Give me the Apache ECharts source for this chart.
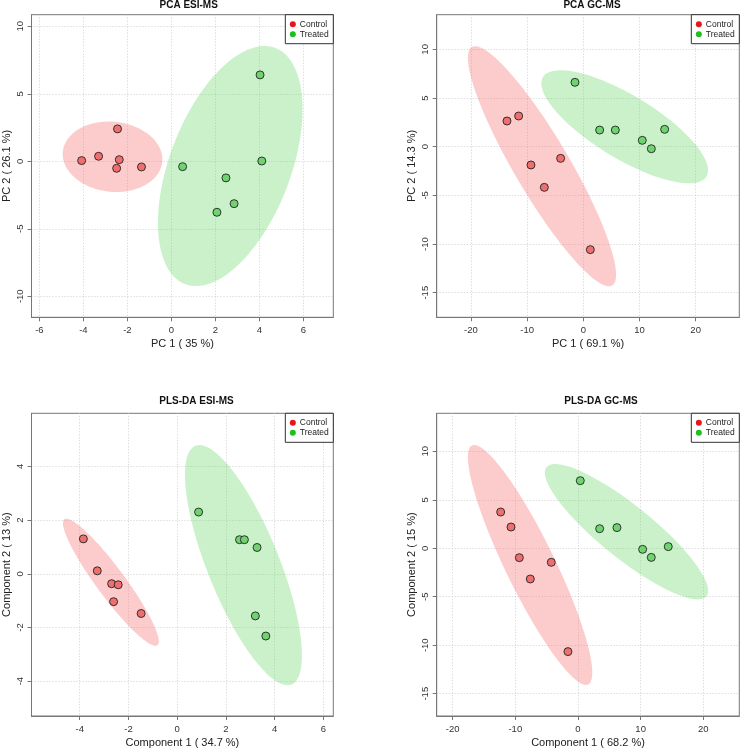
<!DOCTYPE html>
<html><head><meta charset="utf-8">
<script src="https://cdn.jsdelivr.net/npm/echarts@6/dist/echarts.min.js"></script>
<style>html,body{margin:0;padding:0;background:#fff}#c{width:740px;height:750px}</style>
</head><body><div id="c"></div>
<script>
// ---------- data ----------
const groups = ['Control', 'Treated'];
const titles = ['PCA ESI-MS', 'PCA GC-MS', 'PLS-DA ESI-MS', 'PLS-DA GC-MS'];
const xNames = ['PC 1 ( 35 %)', 'PC 1 ( 69.1 %)', 'Component 1 ( 34.7 %)', 'Component 1 ( 68.2 %)'];
const yNames = ['PC 2 ( 26.1 %)', 'PC 2 ( 14.3 %)', 'Component 2 ( 13 %)', 'Component 2 ( 15 %)'];

const pcaEsiControl = [[-4.08, 0.05], [-3.31, 0.37], [-2.45, 2.40], [-2.37, 0.12], [-2.49, -0.52], [-1.36, -0.42]];
const pcaEsiTreated = [[0.51, -0.40], [4.03, 6.40], [4.11, 0.02], [2.48, -1.23], [2.85, -3.14], [2.07, -3.78]];

const pcaGcControl = [[-13.59, 2.64], [-11.51, 3.15], [-9.32, -1.88], [-6.94, -4.18], [-4.04, -1.20], [1.25, -10.58]];
const pcaGcTreated = [[-1.48, 6.61], [2.91, 1.71], [5.70, 1.71], [10.50, 0.65], [12.11, -0.21], [14.48, 1.78]];

const plsEsiControl = [[-3.85, 1.30], [-3.28, 0.11], [-2.69, -0.37], [-2.42, -0.41], [-2.61, -1.04], [-1.48, -1.48]];
const plsEsiTreated = [[0.88, 2.30], [2.56, 1.27], [2.76, 1.27], [3.28, 0.98], [3.21, -1.57], [3.64, -2.32]];

const plsGcControl = [[-12.34, 3.74], [-10.69, 2.19], [-9.36, -0.97], [-7.61, -3.17], [-4.26, -1.45], [-1.60, -10.66]];
const plsGcTreated = [[0.37, 6.97], [3.46, 2.02], [6.22, 2.13], [10.32, -0.11], [11.70, -0.94], [14.41, 0.17]];

const xTicks = [[-6, -4, -2, 0, 2, 4, 6], [-20, -10, 0, 10, 20], [-4, -2, 0, 2, 4, 6], [-20, -10, 0, 10, 20]];
const yTicks = [[-10, -5, 0, 5, 10], [-15, -10, -5, 0, 5, 10], [-4, -2, 0, 2, 4], [-15, -10, -5, 0, 5, 10]];
const xLimits = [[-6.36, 7.36], [-26.1, 27.77], [-5.98, 6.41], [-22.55, 25.75]];
const yLimits = [[-11.56, 10.86], [-17.53, 13.56], [-5.30, 5.98], [-17.30, 13.92]];

const panelData = [
  [pcaEsiControl, pcaEsiTreated],
  [pcaGcControl, pcaGcTreated],
  [plsEsiControl, plsEsiTreated],
  [plsGcControl, plsGcTreated]
];

// ---------- styling / layout ----------
const FONT = 'Liberation Sans, Arial, Helvetica, sans-serif';
const grids = [
  { left: 30.3, top: 14.7, width: 303, height: 302.6 },
  { left: 436.7, top: 14.7, width: 302.6, height: 302.6 },
  { left: 30.3, top: 413.3, width: 303, height: 302.7 },
  { left: 436.7, top: 413.3, width: 302.6, height: 302.7 }
];
const titlePos = [[188.7, 0], [592, 0], [196.5, 396], [601, 396]];
const legendColors = ['#E8161C', '#1FBF1F'];
const pointColors = ['#EF6F6F', '#6FD46F'];
const ellipseColors = ['rgba(248,120,120,0.38)', 'rgba(110,215,110,0.36)'];
const T95 = Math.sqrt(5.991464547); // sqrt(qchisq(0.95, 2))

function ellipsePoints(pts) {
  const n = pts.length;
  const mx = pts.reduce((s, p) => s + p[0], 0) / n;
  const my = pts.reduce((s, p) => s + p[1], 0) / n;
  let sxx = 0, syy = 0, sxy = 0;
  pts.forEach(p => {
    sxx += (p[0] - mx) * (p[0] - mx);
    syy += (p[1] - my) * (p[1] - my);
    sxy += (p[0] - mx) * (p[1] - my);
  });
  sxx /= (n - 1); syy /= (n - 1); sxy /= (n - 1);
  const sx = Math.sqrt(sxx), sy = Math.sqrt(syy);
  const r = sxy / (sx * sy);
  const out = [];
  for (let i = 0; i < 120; i++) {
    const th = (i / 120) * Math.PI * 2;
    out.push([
      mx + T95 * sx * Math.cos(th),
      my + T95 * sy * (r * Math.cos(th) + Math.sqrt(1 - r * r) * Math.sin(th))
    ]);
  }
  return { center: [mx, my], pts: out };
}

const axisLineStyle = { show: true, onZero: false, lineStyle: { color: '#777', width: 1 } };

const option = {
  backgroundColor: '#fff',
  animation: false,
  textStyle: { fontFamily: FONT },
  title: titles.map((t, i) => ({
    text: t, left: titlePos[i][0], top: titlePos[i][1], textAlign: 'center', padding: 0,
    textStyle: { fontSize: 10, fontWeight: 'bold', color: '#111', fontFamily: FONT, lineHeight: 10 }
  })),
  grid: grids.map(g => Object.assign({
    show: true, borderColor: '#777', borderWidth: 1, backgroundColor: 'transparent', containLabel: false
  }, g)),
  legend: grids.map(g => ({
    orient: 'vertical',
    right: 740 - (g.left + g.width),
    top: g.top,
    backgroundColor: '#fff',
    borderColor: '#333', borderWidth: 1, borderRadius: 0,
    padding: [4.5, 4.5, 4.5, 4.5],
    itemGap: 0, itemWidth: 6, itemHeight: 6, icon: 'circle',
    itemStyle: { borderWidth: 0 },
    textStyle: { fontSize: 8.5, lineHeight: 10, color: '#222', fontFamily: FONT, padding: [0, 0, 0, -1] },
    data: groups.map((n, k) => ({ name: n, itemStyle: { color: legendColors[k], borderWidth: 0 } }))
  })),
  xAxis: grids.map((g, i) => ({
    gridIndex: i, type: 'value', min: xLimits[i][0], max: xLimits[i][1],
    name: xNames[i], nameLocation: 'middle', nameGap: 21,
    nameTextStyle: { fontSize: 11, color: '#222', fontFamily: FONT },
    axisLine: axisLineStyle,
    axisTick: { show: true, inside: false, length: 4, lineStyle: { color: '#777' }, customValues: xTicks[i] },
    axisLabel: { customValues: xTicks[i], fontSize: 9.5, color: '#333', margin: 8, fontFamily: FONT },
    splitLine: { show: true, lineStyle: { type: [1, 2], color: '#cfcfcf', width: 1 } }
  })),
  yAxis: grids.map((g, i) => ({
    gridIndex: i, type: 'value', min: yLimits[i][0], max: yLimits[i][1],
    name: yNames[i], nameLocation: 'middle', nameGap: 19.5, nameRotate: 90,
    nameTextStyle: { fontSize: 11, color: '#222', fontFamily: FONT },
    axisLine: axisLineStyle,
    axisTick: { show: true, inside: false, length: 4, lineStyle: { color: '#777' }, customValues: yTicks[i] },
    axisLabel: { customValues: yTicks[i], fontSize: 9.5, color: '#333', margin: 6, rotate: 90, fontFamily: FONT },
    splitLine: { show: true, lineStyle: { type: [1, 2], color: '#cfcfcf', width: 1 } }
  })),
  series: []
};

panelData.forEach((pair, i) => {
  pair.forEach((pts, k) => {
    const el = ellipsePoints(pts);
    option.series.push({
      type: 'custom', name: groups[k] + ' ellipse ' + i, xAxisIndex: i, yAxisIndex: i,
      coordinateSystem: 'cartesian2d', silent: true, z: 1,
      data: [el.center],
      renderItem: function (params, api) {
        return {
          type: 'polygon',
          shape: { points: el.pts.map(p => api.coord(p)) },
          style: { fill: ellipseColors[k], stroke: null }
        };
      }
    });
  });
  pair.forEach((pts, k) => {
    option.series.push({
      type: 'scatter', name: groups[k], xAxisIndex: i, yAxisIndex: i, z: 3,
      symbol: 'circle', symbolSize: 8,
      itemStyle: { color: pointColors[k], borderColor: '#222', borderWidth: 0.9, opacity: 1 },
      data: pts
    });
  });
});

const chart = echarts.init(document.getElementById('c'), null, { renderer: 'canvas' });
chart.setOption(option);
</script>
</body></html>
